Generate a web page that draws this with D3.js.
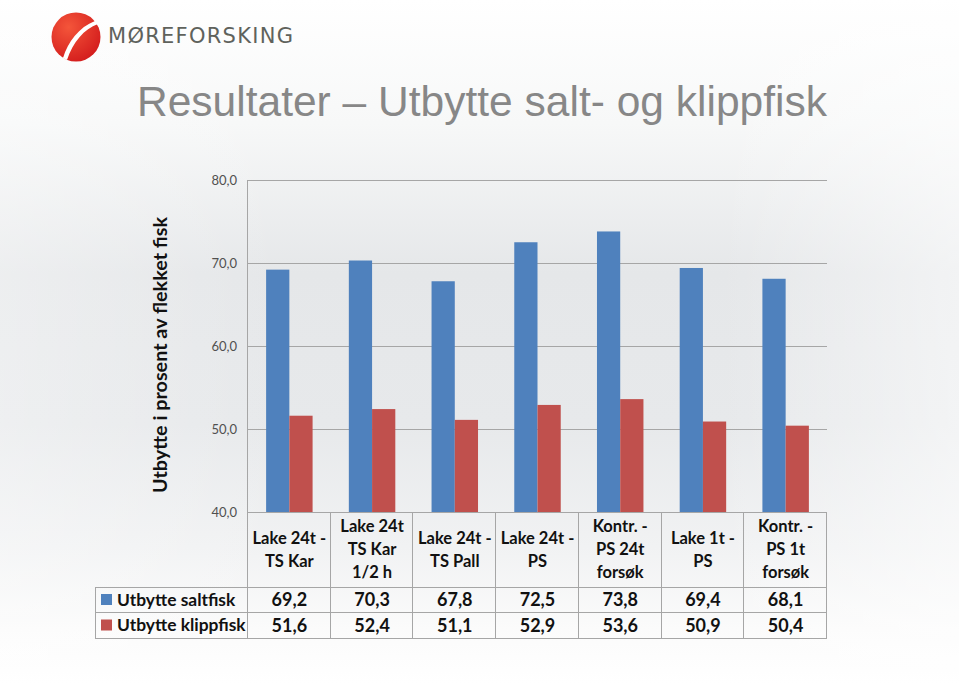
<!DOCTYPE html>
<html><head><meta charset="utf-8">
<script src="https://cdn.jsdelivr.net/npm/d3@7"></script>
<style>html,body{margin:0;padding:0;background:#fff;}svg{display:block;}</style>
</head><body>
<script>
const categories = [["Lake 24t -","TS Kar"],["Lake 24t","TS Kar","1/2 h"],["Lake 24t -","TS Pall"],["Lake 24t -","PS"],["Kontr. -","PS 24t","forsøk"],["Lake 1t -","PS"],["Kontr. -","PS 1t","forsøk"]];
const seriesNames = ["Utbytte saltfisk","Utbytte klippfisk"];
const saltfisk = [69.2,70.3,67.8,72.5,73.8,69.4,68.1];
const klippfisk = [51.6,52.4,51.1,52.9,53.6,50.9,50.4];
const yTicks = [40,50,60,70,80];
const colors = ["#4f81bd","#c0504d"];
const title = "Resultater – Utbytte salt- og klippfisk";
const yTitle = "Utbytte i prosent av flekket fisk";
const logoText = "MØREFORSKING";

(function(){
const W=959,H=684;
const svg=d3.select("body").append("svg").attr("width",W).attr("height",H);
const defs=svg.append("defs");
const bg=defs.append("linearGradient").attr("id","bg").attr("x1",0).attr("y1",0).attr("x2",0).attr("y2",1);
[[0,"#ffffff"],[0.18,"#f7f8f8"],[0.4,"#e5e7e9"],[0.62,"#e7e9eb"],[0.8,"#f1f2f3"],[0.92,"#fbfbfb"],[1,"#ffffff"]].forEach(s=>bg.append("stop").attr("offset",s[0]).attr("stop-color",s[1]));
svg.append("rect").attr("width",W).attr("height",H).attr("fill","url(#bg)");
const bgh=defs.append("linearGradient").attr("id","bgh").attr("x1",0).attr("y1",0).attr("x2",1).attr("y2",0);
[[0,"#ffffff",0.3],[0.3,"#ffffff",0],[0.75,"#ffffff",0],[1,"#ffffff",0.5]].forEach(s=>bgh.append("stop").attr("offset",s[0]).attr("stop-color",s[1]).attr("stop-opacity",s[2]));
svg.append("rect").attr("width",W).attr("height",H).attr("fill","url(#bgh)");

// Logo
const lg=defs.append("radialGradient").attr("id","lg").attr("cx","35%").attr("cy","30%").attr("r","75%");
lg.append("stop").attr("offset",0).attr("stop-color","#f4553a");
lg.append("stop").attr("offset",1).attr("stop-color","#d41d1d");
svg.append("circle").attr("cx",76).attr("cy",37).attr("r",24.5).attr("fill","url(#lg)");
svg.append("path").attr("d","M63,58 C68,42 79,27 95,21 C97,22 98,23 98,24 C84,29 73,42 67,60 Z").attr("fill","#fff");
svg.append("text").attr("x",108).attr("y",42.5).attr("font-family","DejaVu Sans").attr("font-size",21)
  .attr("fill","#5f625c").attr("textLength",185).attr("lengthAdjust","spacing").text(logoText);

// Title
svg.append("text").attr("x",137).attr("y",116).attr("font-family","Liberation Sans, Arial").attr("font-size",42.5)
  .attr("fill","#878787").attr("textLength",690).attr("lengthAdjust","spacingAndGlyphs").text(title);

// Chart
const pl=248,pr=827,pt=180,pb=512;
const y=d3.scaleLinear().domain([40,80]).range([pb,pt]);
const x0=d3.scaleBand().domain(d3.range(categories.length)).range([pl,pr]).padding(0);
const x1=d3.scaleBand().domain([0,1]).range([0,x0.bandwidth()]).paddingOuter(0.78).paddingInner(0);

const g=svg.append("g");
g.selectAll("line.grid").data(yTicks).join("line").attr("x1",pl-1).attr("x2",pr).attr("y1",d=>Math.round(y(d))+0.5).attr("y2",d=>Math.round(y(d))+0.5)
  .attr("stroke","#a6a6a6").attr("stroke-width",1);
g.append("line").attr("x1",pl-0.5).attr("x2",pl-0.5).attr("y1",pt).attr("y2",pb).attr("stroke","#a6a6a6");
g.selectAll("text.yt").data(yTicks).join("text").attr("x",237).attr("y",d=>y(d)+4.5).attr("text-anchor","end")
  .attr("font-family","Lato, sans-serif").attr("font-size",13).attr("fill","#505050").text(d=>d.toFixed(1).replace(".",","));

const data=[saltfisk,klippfisk];
data.forEach((vals,si)=>{
  g.selectAll("rect.s"+si).data(vals).join("rect").attr("class","s"+si).attr("x",(d,i)=>x0(i)+x1(si)).attr("width",x1.bandwidth())
   .attr("y",d=>y(d)).attr("height",d=>pb-y(d)).attr("fill",colors[si]);
});

svg.append("text").attr("transform","translate(167,355) rotate(-90)").attr("text-anchor","middle")
  .attr("font-family","Lato, sans-serif").attr("font-weight",700).attr("font-size",19.8).attr("fill","#111").text(yTitle);

// Table
const tLeft=95, rowY=[587,612,638];
const tc="#a6a6a6";
const t=svg.append("g").attr("stroke",tc).attr("stroke-width",1);
rowY.forEach(yy=>t.append("line").attr("x1",tLeft).attr("x2",pr).attr("y1",yy+0.5).attr("y2",yy+0.5));
d3.range(categories.length+1).forEach(i=>{
  const xx=i<categories.length?x0(i):pr;
  t.append("line").attr("x1",Math.round(xx)-0.5).attr("x2",Math.round(xx)-0.5).attr("y1",pb).attr("y2",rowY[2]);
});
t.append("line").attr("x1",tLeft+0.5).attr("x2",tLeft+0.5).attr("y1",rowY[0]).attr("y2",rowY[2]);

const font="Lato, sans-serif";
categories.forEach((lines,i)=>{
  const cx=x0(i)+x0.bandwidth()/2;
  const n=lines.length, lh=23;
  const y0=549-(n-1)*lh/2+6;
  lines.forEach((l,k)=>svg.append("text").attr("x",cx).attr("y",y0+k*lh).attr("text-anchor","middle")
    .attr("font-family",font).attr("font-weight",700).attr("font-size",16.5).attr("fill","#111").text(l));
});
data.forEach((vals,si)=>{
  const cy=(rowY[si]+rowY[si+1])/2;
  svg.append("rect").attr("x",101).attr("y",cy-5.5).attr("width",11).attr("height",11).attr("fill",colors[si]);
  svg.append("text").attr("x",117).attr("y",cy+6).attr("font-family",font).attr("font-weight",700).attr("font-size",17.4).attr("fill","#111").text(seriesNames[si]);
  vals.forEach((v,i)=>svg.append("text").attr("x",x0(i)+x0.bandwidth()/2).attr("y",cy+6.5).attr("text-anchor","middle")
    .attr("font-family",font).attr("font-weight",700).attr("font-size",18).attr("fill","#111").text(v.toFixed(1).replace(".",",")));
});
})();
</script>
</body></html>
